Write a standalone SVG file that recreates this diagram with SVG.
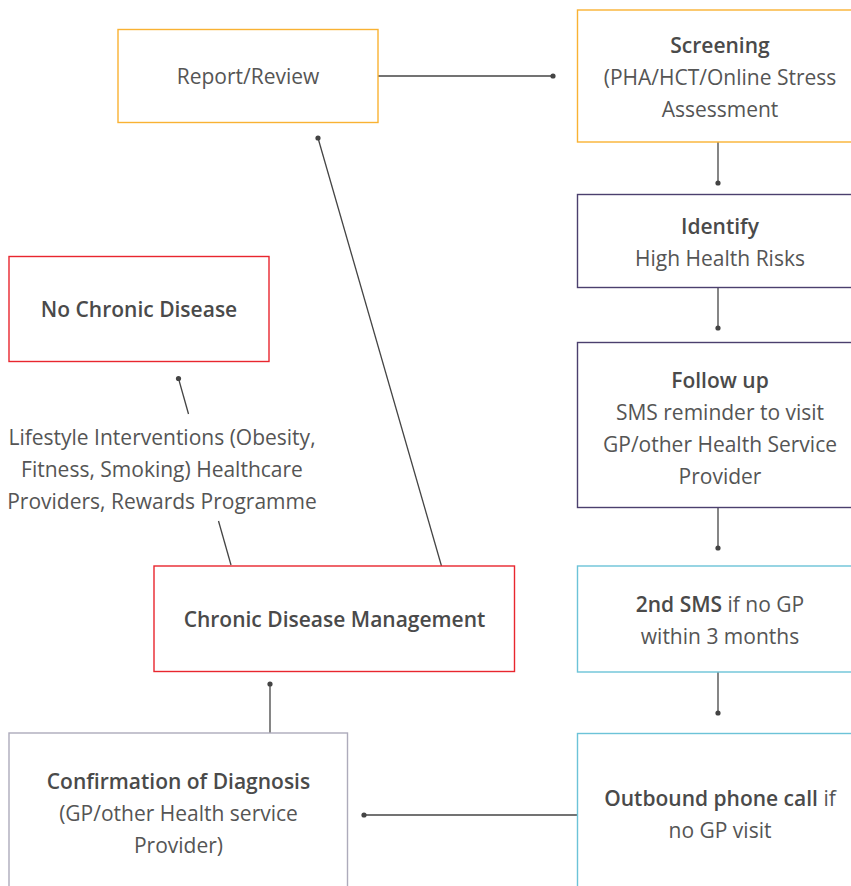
<svg xmlns="http://www.w3.org/2000/svg" width="851" height="886" viewBox="0 0 851 886">
<defs>
<style>
.box{fill:#fff;stroke-width:1.4}
.o{stroke:#F9B233}.r{stroke:#E8262E}.p{stroke:#4B3F6E}.b{stroke:#6CC3D8}.g{stroke:#ADABBB}
text{font-family:"Open Sans","Noto Sans","Liberation Sans",sans-serif;font-size:21px;fill:#555;text-anchor:middle}
.bd{font-weight:600;fill:#4a4a4a}
.ln{stroke:#444;stroke-width:1.3;fill:none}
.dot{fill:#444}
</style>
</defs>
<rect width="851" height="886" fill="#fff"/>
<g id="connectors">
<line class="ln" x1="378" y1="76" x2="553" y2="76"/><circle class="dot" cx="553" cy="76" r="2.6"/>
<line class="ln" x1="718" y1="142" x2="718" y2="183"/><circle class="dot" cx="718" cy="183" r="2.6"/>
<line class="ln" x1="718" y1="288" x2="718" y2="328"/><circle class="dot" cx="718" cy="328" r="2.6"/>
<line class="ln" x1="718" y1="508" x2="718" y2="548"/><circle class="dot" cx="718" cy="548" r="2.6"/>
<line class="ln" x1="718" y1="672" x2="718" y2="713"/><circle class="dot" cx="718" cy="713" r="2.6"/>
<line class="ln" x1="577" y1="815" x2="364" y2="815"/><circle class="dot" cx="364" cy="815" r="2.6"/>
<line class="ln" x1="270" y1="733" x2="270" y2="684"/><circle class="dot" cx="270" cy="684" r="2.6"/>
<line class="ln" x1="441.5" y1="566" x2="318" y2="138"/><circle class="dot" cx="318" cy="138" r="2.6"/>
<line class="ln" x1="231" y1="565" x2="218.5" y2="521"/>
<line class="ln" x1="188.5" y1="414" x2="178.5" y2="378.5"/><circle class="dot" cx="178.5" cy="378.5" r="2.6"/>
</g>
<g id="report">
<rect class="box o" x="118" y="29.5" width="260" height="93"/>
<text x="248" y="83.5">Report/Review</text>
</g>
<g id="screening">
<rect class="box o" x="577.5" y="10" width="290" height="132"/>
<text class="bd" x="720" y="52.5">Screening</text>
<text x="720" y="84.5">(PHA/HCT/Online Stress</text>
<text x="720" y="116.5">Assessment</text>
</g>
<g id="identify">
<rect class="box p" x="577.5" y="194.5" width="290" height="93"/>
<text class="bd" x="720" y="233.5">Identify</text>
<text x="720" y="265.5">High Health Risks</text>
</g>
<g id="followup">
<rect class="box p" x="577.5" y="342.5" width="290" height="165"/>
<text class="bd" x="720" y="387.5">Follow up</text>
<text x="720" y="419.5">SMS reminder to visit</text>
<text x="720" y="451.5">GP/other Health Service</text>
<text x="720" y="483.5">Provider</text>
</g>
<g id="sms2">
<rect class="box b" x="577.5" y="566" width="290" height="106"/>
<text x="720" y="611.5"><tspan class="bd">2nd SMS</tspan> if no GP</text>
<text x="720" y="643.5">within 3 months</text>
</g>
<g id="outbound">
<rect class="box b" x="577.5" y="733.5" width="290" height="170"/>
<text x="720" y="805.5"><tspan class="bd">Outbound phone call</tspan> if</text>
<text x="720" y="837.5">no GP visit</text>
</g>
<g id="confirmation">
<rect class="box g" x="9" y="733" width="338.5" height="170"/>
<text class="bd" x="178.5" y="788.5">Confirmation of Diagnosis</text>
<text x="178.5" y="820.5">(GP/other Health service</text>
<text x="178.5" y="852.5">Provider)</text>
</g>
<g id="cdm">
<rect class="box r" x="154" y="566" width="360.5" height="105.5"/>
<text class="bd" x="334.5" y="626.5">Chronic Disease Management</text>
</g>
<g id="nochronic">
<rect class="box r" x="9" y="256.5" width="260" height="105"/>
<text class="bd" x="139" y="316.5">No Chronic Disease</text>
</g>
<g id="lifestyle">
<text x="162" y="444.5">Lifestyle Interventions (Obesity,</text>
<text x="162" y="476.5">Fitness, Smoking) Healthcare</text>
<text x="162" y="508.5">Providers, Rewards Programme</text>
</g>
</svg>
